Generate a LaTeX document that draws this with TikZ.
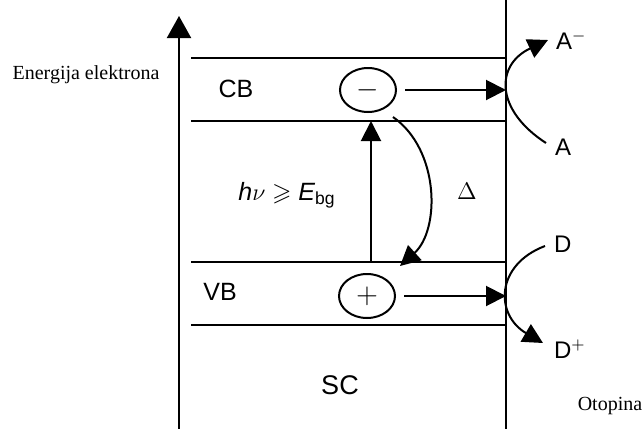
\documentclass[tikz,border=0pt]{standalone}
\usepackage{amsmath, amssymb}
\usepackage{fontspec}
\setmainfont{Liberation Serif}
\newfontfamily\labfont{Liberation Sans}
\usetikzlibrary{arrows.meta, shapes.geometric}

\begin{document}
\begin{tikzpicture}[x=0.5pt, y=-0.5pt, >={Triangle[length=10pt,width=10pt]}, line width=1pt,
  bandlabel/.style={font=\labfont\fontsize{12.5}{14}\selectfont},
  carrier/.style={draw, ellipse, minimum width=28pt, minimum height=22pt, inner sep=0pt, font=\Large},
  species/.style={anchor=west, inner sep=0pt, font=\labfont\fontsize{12}{14}\selectfont}]
  \useasboundingbox (0,0) rectangle (644,429);

  % energy axis and interface
  \coordinate (axbot) at (179,429);
  \coordinate (axtop) at (179,16);
  \draw[-{Triangle[length=11pt,width=12pt]}] (axbot) -- (axtop);
  \coordinate (ifTop) at (506,0);
  \coordinate (ifBot) at (506,429);
  \draw[line width=0.8pt] (ifTop) -- (ifBot);

  % band edges
  \foreach \yy in {58,121,262,325}
    \draw (191,\yy) -- (506,\yy);

  \node[font=\fontsize{10}{12}\selectfont] (energy) at (86,75) {Energija elektrona};
  \node[bandlabel] (cb) at (236,89) {CB};
  \node[bandlabel] (vb) at (220,292) {VB};
  \node[bandlabel, font=\labfont\fontsize{13.5}{15}\selectfont] (sc) at (340,385) {SC};
  \node[font=\fontsize{10}{12}\selectfont] (otopina) at (610,406) {Otopina};

  % carriers
  \node[carrier] (minus) at (368,90) {$-$};
  \node[carrier] (plus) at (367,296) {$+$};
  \coordinate (cbS) at (506,90);
  \coordinate (vbS) at (506,296);
  \draw[->] (minus.east) ++(8,0) -- (cbS);
  \draw[->] (plus.east) ++(8,0) -- (vbS);

  % excitation and relaxation
  \coordinate (exBot) at (371,262);
  \coordinate (exTop) at (371,121);
  \draw[->] (exBot) -- (exTop);
  \node[bandlabel, font=\labfont\itshape\fontsize{12.5}{14}\selectfont] (hnu) at (287,195)
    {h$\nu \geqslant$ E\textsubscript{\upshape bg}};
  \coordinate (relTop) at (393,117);
  \coordinate (relBot) at (400,266);
  \draw[->] (relTop) .. controls (440,150) and (440,230) .. (relBot);
  \node[bandlabel] (delta) at (467,191) {$\Delta$};

  % species in solution
  \node[species] (aminus) at (555,40) {A$^{-}$};
  \node[species] (acc) at (554,147) {A};
  \node[species] (don) at (553,244) {D};
  \node[species] (dplus) at (553,349) {D$^{+}$};
  \draw[->] (acc.west) ++(-8,-4) .. controls (495,110) and (495,65) .. (548,40);
  \draw[->] (don.west) ++(-8,2) .. controls (495,265) and (495,315) .. (543,343);
\end{tikzpicture}
\end{document}
